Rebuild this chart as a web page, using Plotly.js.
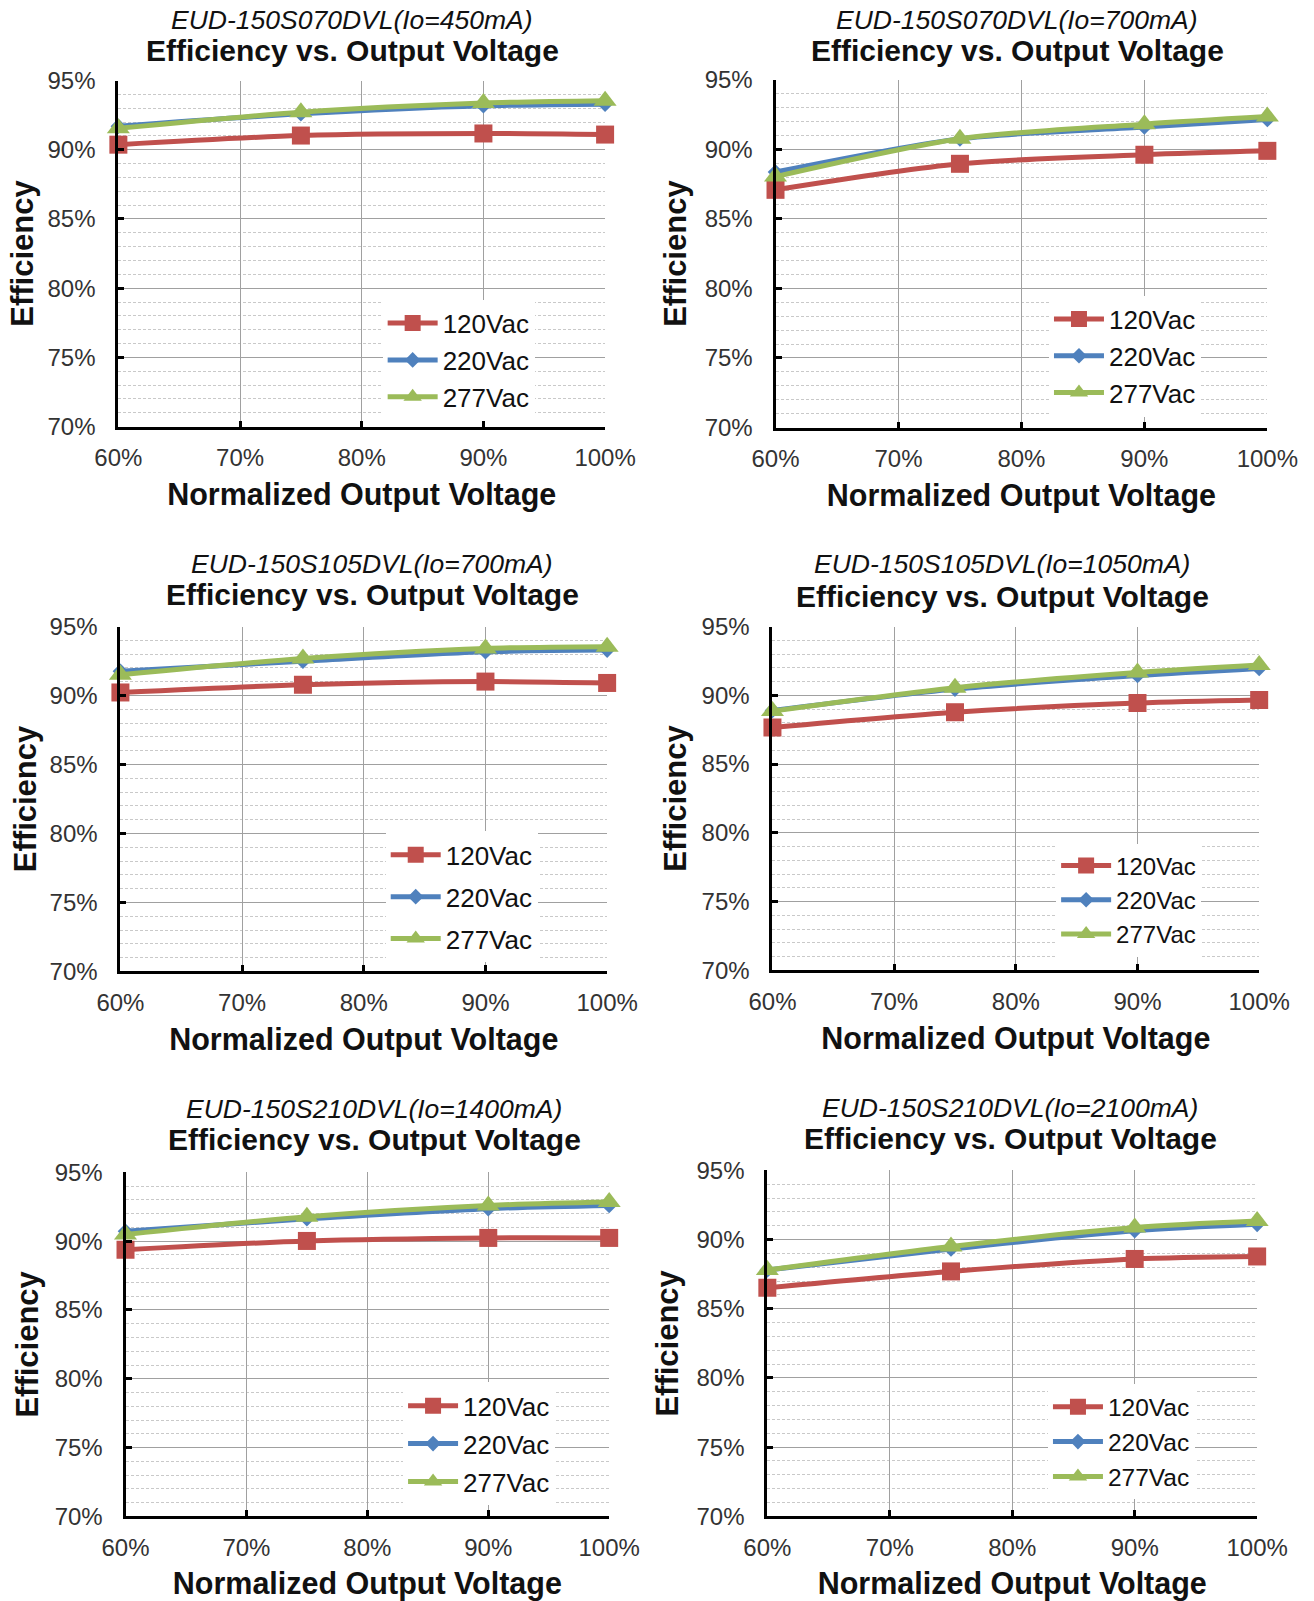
<!DOCTYPE html>
<html>
<head>
<meta charset="utf-8">
<script src="https://cdn.plot.ly/plotly-3.0.1.min.js"></script>
<style>html,body{margin:0;padding:0;background:#fff;}#chart{width:1314px;height:1601px;}</style>
</head>
<body>
<div id="chart"></div>
<script>
// ---- data ----
const voltage = [0.60, 0.75, 0.90, 1.00];
const seriesNames = ['120Vac', '220Vac', '277Vac'];
const models = ['EUD-150S070DVL(Io=450mA)', 'EUD-150S070DVL(Io=700mA)',
                'EUD-150S105DVL(Io=700mA)', 'EUD-150S105DVL(Io=1050mA)',
                'EUD-150S210DVL(Io=1400mA)', 'EUD-150S210DVL(Io=2100mA)'];
const p1_120 = [0.9037, 0.9103, 0.9118, 0.9110];
const p1_220 = [0.9170, 0.9260, 0.9318, 0.9330];
const p1_277 = [0.9155, 0.9272, 0.9338, 0.9355];
const p2_120 = [0.8708, 0.8895, 0.8960, 0.8988];
const p2_220 = [0.8836, 0.9074, 0.9160, 0.9213];
const p2_277 = [0.8803, 0.9075, 0.9180, 0.9234];
const p3_120 = [0.9022, 0.9078, 0.9101, 0.9091];
const p3_220 = [0.9176, 0.9249, 0.9317, 0.9329];
const p3_277 = [0.9150, 0.9268, 0.9341, 0.9354];
const p4_120 = [0.8766, 0.8877, 0.8944, 0.8966];
const p4_220 = [0.8890, 0.9045, 0.9144, 0.9195];
const p4_277 = [0.8885, 0.9055, 0.9166, 0.9220];
const p5_120 = [0.8938, 0.9002, 0.9024, 0.9024];
const p5_220 = [0.9073, 0.9163, 0.9237, 0.9260];
const p5_277 = [0.9049, 0.9178, 0.9260, 0.9285];
const p6_120 = [0.8652, 0.8770, 0.8860, 0.8878];
const p6_220 = [0.8780, 0.8932, 0.9064, 0.9110];
const p6_277 = [0.8780, 0.8950, 0.9088, 0.9134];
const panelData = [[p1_120, p1_220, p1_277], [p2_120, p2_220, p2_277],
                   [p3_120, p3_220, p3_277], [p4_120, p4_220, p4_277],
                   [p5_120, p5_220, p5_277], [p6_120, p6_220, p6_277]];

// ---- styling / layout geometry ----
const W = 1314, H = 1601;
const S = 1 / 0.98;
const fx = px => (px * S) / W;
const fy = py => 1 - (py * S) / H;
const boxes = [
  {x0: 116, x1: 593, y0: 79, y1: 418, tx: 345, t1: 19.5, t2: 49.5, lx: 375, ly: 353, gap: 0, lf: 26, ys: 5},
  {x0: 760, x1: 1242, y0: 78, y1: 419, tx: 997, t1: 19.5, t2: 49.5, lx: 1028, ly: 349, gap: 0, lf: 26, ys: 9},
  {x0: 118, x1: 595, y0: 614, y1: 952, tx: 365, t1: 553, t2: 583, lx: 378, ly: 879, gap: 5, lf: 26, ys: 4},
  {x0: 757, x1: 1234, y0: 614, y1: 951, tx: 982, t1: 553, t2: 585, lx: 1035, ly: 882, gap: 0, lf: 24, ys: 6},
  {x0: 123, x1: 597, y0: 1149, y1: 1486, tx: 367, t1: 1086.5, t2: 1116.5, lx: 395, ly: 1415, gap: 1, lf: 26, ys: 7},
  {x0: 752, x1: 1232, y0: 1147, y1: 1486, tx: 990, t1: 1086, t2: 1116, lx: 1027, ly: 1413, gap: 0, lf: 24.5, ys: 9}
];
const colors = ['#C0504D', '#4F81BD', '#9BBB59'];
const symbols = ['square', 'diamond', 'triangle-up'];
const msizes = [18, 12, 20];
const FONT = 'Liberation Sans, Arial, sans-serif';

const traces = [];
const layout = {
  width: W, height: H,
  margin: {l: 0, r: 0, t: 0, b: 0},
  paper_bgcolor: '#fff', plot_bgcolor: '#fff',
  font: {family: FONT, color: '#000'},
  annotations: [],
  showlegend: true
};

boxes.forEach((b, i) => {
  const n = i + 1;
  const xa = 'xaxis' + (n === 1 ? '' : n), ya = 'yaxis' + (n === 1 ? '' : n);
  const xr = 'x' + (n === 1 ? '' : n), yr = 'y' + (n === 1 ? '' : n);
  const lg = 'legend' + (n === 1 ? '' : n);
  layout[xa] = {
    domain: [fx(b.x0), fx(b.x1)], anchor: yr,
    range: [0.6, 1.0], dtick: 0.1, tick0: 0.6, tickformat: '.0%',
    showgrid: true, gridcolor: '#a0a0a0', gridwidth: 1,
    showline: true, linecolor: '#000', linewidth: 3,
    ticks: 'inside', ticklen: 6, tickwidth: 3, tickcolor: '#000',
    tickfont: {size: 24, color: '#333', family: FONT},
    ticklabelstandoff: 8,
    zeroline: false, fixedrange: true,
    title: {text: 'Normalized Output Voltage', font: {size: 30.5, family: FONT, weight: 'bold', color: '#111'}, standoff: 14}
  };
  layout[ya] = {
    domain: [fy(b.y1), fy(b.y0)], anchor: xr,
    range: [0.70, 0.95], dtick: 0.05, tick0: 0.70, tickformat: '.0%',
    showgrid: true, gridcolor: '#a0a0a0', gridwidth: 1,
    minor: {dtick: 0.01, showgrid: true, gridcolor: '#c9c9c9', gridwidth: 1, griddash: '3px,2px'},
    showline: true, linecolor: '#000', linewidth: 3,
    ticks: 'inside', ticklen: 6, tickwidth: 3, tickcolor: '#000',
    tickfont: {size: 24, color: '#333', family: FONT},
    ticklabelstandoff: 15,
    zeroline: false, fixedrange: true,
    title: {text: 'Efficiency', font: {size: 31, family: FONT, weight: 'bold', color: '#111'}, standoff: b.ys}
  };
  layout[lg] = {
    x: fx(b.lx), y: fy(b.ly), xref: 'paper', yref: 'paper',
    xanchor: 'left', yanchor: 'middle',
    bgcolor: '#fff', borderwidth: 0,
    font: {size: b.lf, family: FONT, color: '#111'},
    itemwidth: 50, tracegroupgap: b.gap, traceorder: 'grouped'
  };
  panelData[i].forEach((vals, s) => {
    traces.push({
      type: 'scatter', mode: 'lines+markers',
      x: voltage, y: vals, name: seriesNames[s],
      xaxis: xr, yaxis: yr, legend: lg, legendgroup: 'p' + n + 's' + s,
      line: {color: colors[s], width: 5, shape: 'spline', smoothing: 0.8},
      marker: {symbol: symbols[s], size: msizes[s], color: colors[s]},
      hoverinfo: 'skip', cliponaxis: false
    });
  });
  layout.annotations.push({
    text: models[i], xref: 'paper', yref: 'paper', x: fx(b.tx), y: fy(b.t1),
    xanchor: 'center', yanchor: 'middle', showarrow: false,
    font: {size: 26.5, family: FONT, style: 'italic', color: '#111'}
  });
  layout.annotations.push({
    text: 'Efficiency vs. Output Voltage', xref: 'paper', yref: 'paper', x: fx(b.tx), y: fy(b.t2),
    xanchor: 'center', yanchor: 'middle', showarrow: false,
    font: {size: 30, family: FONT, weight: 'bold', color: '#111'}
  });
});

Plotly.newPlot('chart', traces, layout, {staticPlot: true, displayModeBar: false});
</script>
</body>
</html>
